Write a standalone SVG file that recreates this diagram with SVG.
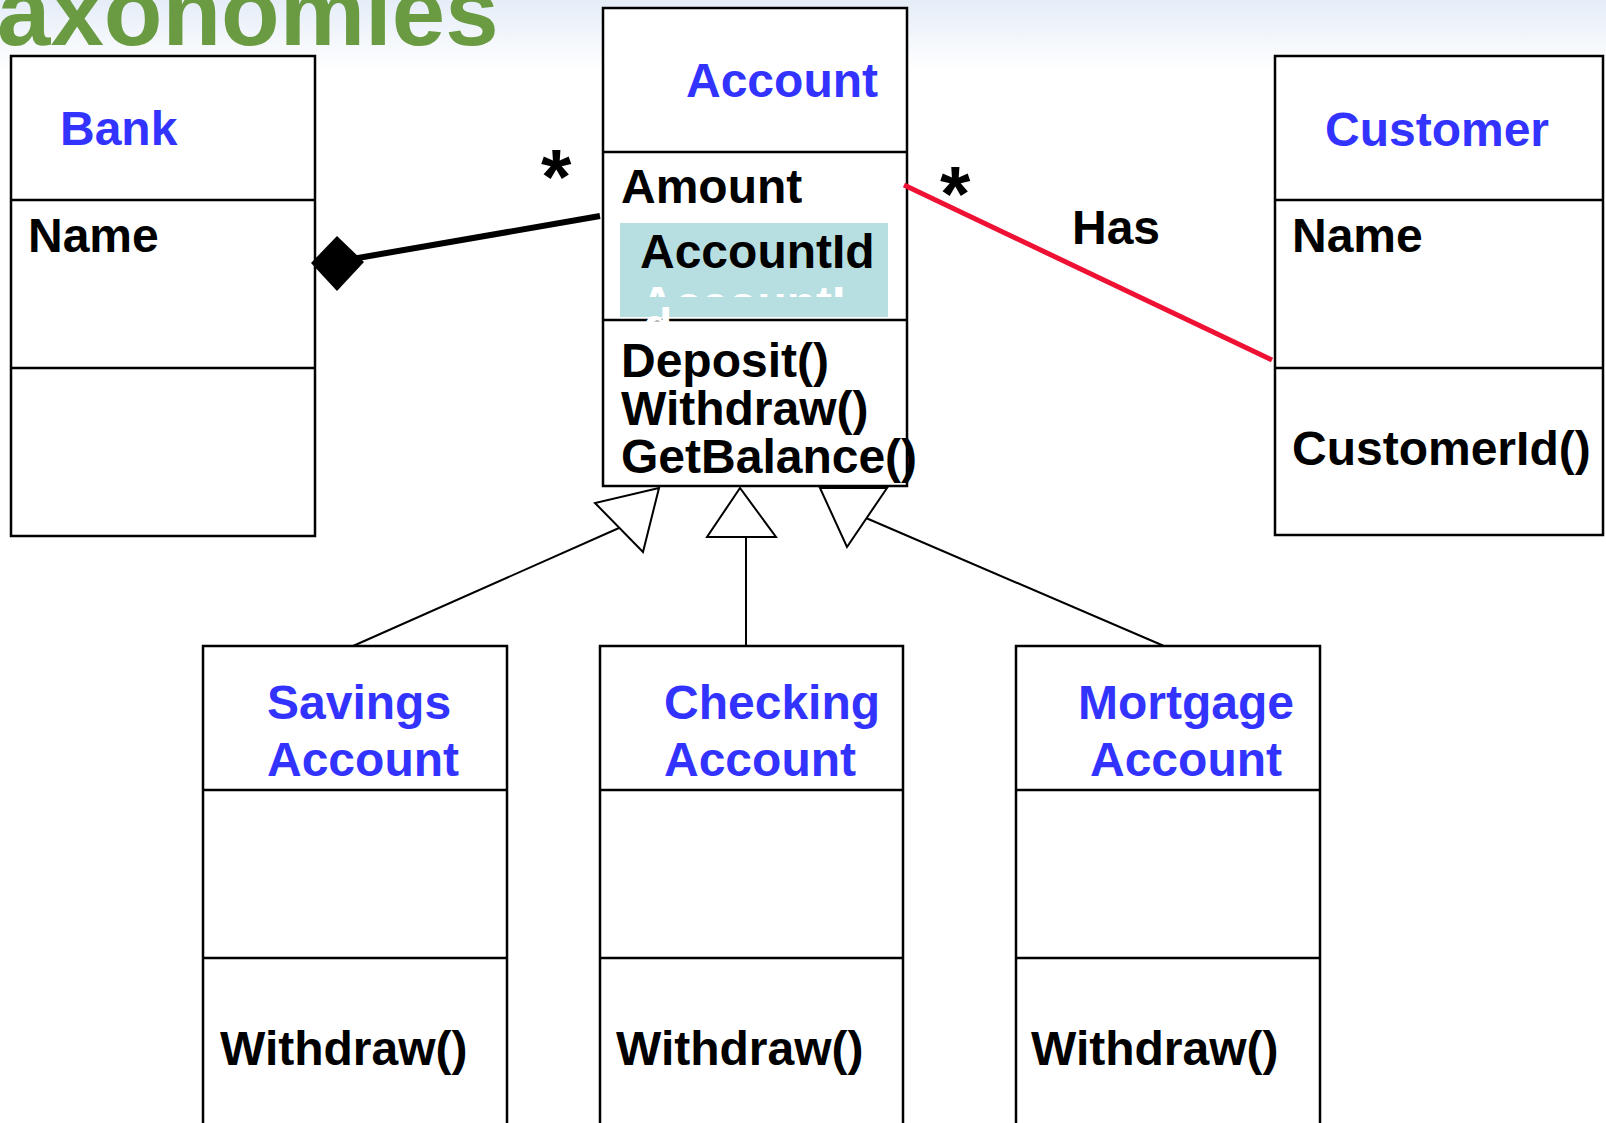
<svg xmlns="http://www.w3.org/2000/svg" width="1606" height="1123" viewBox="0 0 1606 1123">
  <defs>
    <linearGradient id="bg" x1="0" y1="0" x2="0" y2="1">
      <stop offset="0" stop-color="#e5edf8"/>
      <stop offset="1" stop-color="#ffffff"/>
    </linearGradient>
    <!-- the faded duplicate attribute only shows inside its own text frame -->
    <clipPath id="ghostClip">
      <rect x="620" y="223" width="268" height="74"/>
    </clipPath>
    <clipPath id="ghostTailClip">
      <rect x="640" y="304" width="30" height="19"/>
    </clipPath>
    <style>
      text { font-family: "Liberation Sans", Arial, sans-serif; font-weight: bold; font-size: 48px; }
      .title { fill: #6a9b43; font-size: 96px; }
      .cls { fill: #3333ff; }
      .mem { fill: #000000; }
      .ghost { fill: #ffffff; }
      .star { fill: #000000; font-size: 78px; }
      .box { fill: #ffffff; stroke: #000000; stroke-width: 2.5; }
      .div { stroke: #000000; stroke-width: 2.5; }
      .gen { fill: none; stroke: #000000; stroke-width: 2; }
      .head { fill: #ffffff; stroke: #000000; stroke-width: 2; stroke-linejoin: miter; }
    </style>
  </defs>

  <!-- page background with the pale blue band at the top -->
  <rect x="0" y="0" width="1606" height="1123" fill="#ffffff"/>
  <rect x="0" y="0" width="1606" height="70" fill="url(#bg)"/>

  <text class="title" x="-3" y="45">axonomies</text>

  <!-- Bank -->
  <g id="bank">
    <rect class="box" x="11" y="56" width="304" height="480"/>
    <line class="div" x1="11" y1="200" x2="315" y2="200"/>
    <line class="div" x1="11" y1="368" x2="315" y2="368"/>
    <text class="cls" x="60" y="145">Bank</text>
    <text class="mem" x="28" y="252">Name</text>
  </g>

  <!-- Account -->
  <g id="account">
    <rect class="box" x="603" y="8" width="304" height="478"/>
    <line class="div" x1="603" y1="152" x2="907" y2="152"/>
    <rect x="620" y="223" width="268" height="94" fill="#b7dfe2"/>
    <line class="div" x1="603" y1="320" x2="907" y2="320"/>
    <text class="ghost" x="640" y="320" clip-path="url(#ghostClip)">AccountI</text>
    <text class="ghost" x="643" y="342" clip-path="url(#ghostTailClip)">d</text>
    <text class="mem" x="621" y="203">Amount</text>
    <text class="mem" x="640" y="268">AccountId</text>
    <text class="mem" x="621" y="377">Deposit()</text>
    <text class="mem" x="621" y="425">Withdraw()</text>
    <text class="mem" x="621" y="473">GetBalance()</text>
    <text class="cls" x="686" y="97">Account</text>
  </g>

  <!-- Customer -->
  <g id="customer">
    <rect class="box" x="1275" y="56" width="328" height="479"/>
    <line class="div" x1="1275" y1="200" x2="1603" y2="200"/>
    <line class="div" x1="1275" y1="368" x2="1603" y2="368"/>
    <text class="cls" x="1325" y="146">Customer</text>
    <text class="mem" x="1292" y="252">Name</text>
    <text class="mem" x="1292" y="465">CustomerId()</text>
  </g>

  <!-- Savings Account -->
  <g id="savings">
    <rect class="box" x="203" y="646" width="304" height="500"/>
    <line class="div" x1="203" y1="790" x2="507" y2="790"/>
    <line class="div" x1="203" y1="958" x2="507" y2="958"/>
    <text class="cls" x="267" y="719">Savings</text>
    <text class="cls" x="267" y="776">Account</text>
    <text class="mem" x="220" y="1065">Withdraw()</text>
  </g>

  <!-- Checking Account -->
  <g id="checking">
    <rect class="box" x="600" y="646" width="303" height="500"/>
    <line class="div" x1="600" y1="790" x2="903" y2="790"/>
    <line class="div" x1="600" y1="958" x2="903" y2="958"/>
    <text class="cls" x="664" y="719">Checking</text>
    <text class="cls" x="664" y="776">Account</text>
    <text class="mem" x="616" y="1065">Withdraw()</text>
  </g>

  <!-- Mortgage Account -->
  <g id="mortgage">
    <rect class="box" x="1016" y="646" width="304" height="500"/>
    <line class="div" x1="1016" y1="790" x2="1320" y2="790"/>
    <line class="div" x1="1016" y1="958" x2="1320" y2="958"/>
    <text class="cls" x="1078" y="719">Mortgage</text>
    <text class="cls" x="1090" y="776">Account</text>
    <text class="mem" x="1031" y="1065">Withdraw()</text>
  </g>

  <!-- connectors -->
  <g id="connectors">
    <!-- Bank composes Accounts -->
    <line x1="352" y1="259" x2="600" y2="216" stroke="#000000" stroke-width="6"/>
    <polygon points="311,263 337,236 364,262 337,291" fill="#000000"/>
    <text class="star" x="541" y="204">*</text>

    <!-- Account "Has" Customer -->
    <line x1="904" y1="185" x2="1272" y2="360" stroke="#ee1133" stroke-width="5"/>
    <text class="star" x="940" y="221">*</text>
    <text class="mem" x="1072" y="244">Has</text>

    <!-- generalisations -->
    <line class="gen" x1="353" y1="646" x2="619" y2="528"/>
    <polygon class="head" points="659,488 595,503 643,552"/>

    <line class="gen" x1="746" y1="537" x2="746" y2="646"/>
    <polygon class="head" points="740,488 707,537 776,537"/>

    <line class="gen" x1="1164" y1="646" x2="866" y2="518"/>
    <polygon class="head" points="820,488 887,488 847,547"/>
  </g>
</svg>
